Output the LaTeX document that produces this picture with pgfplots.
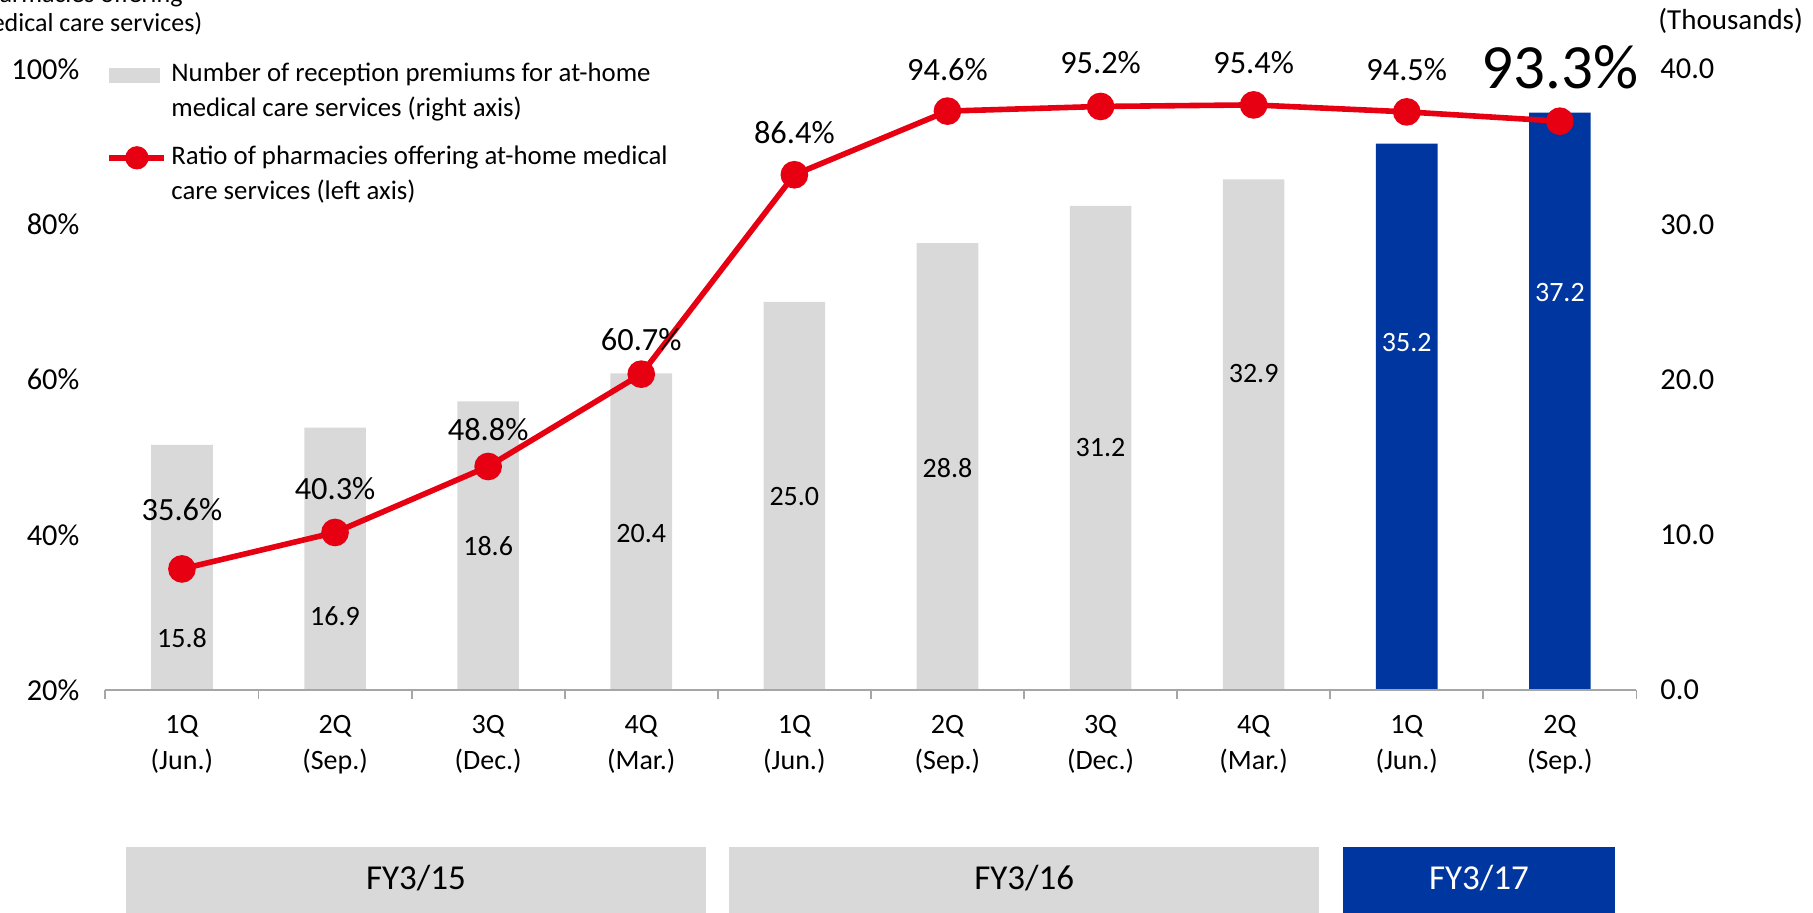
\documentclass[border=0pt]{standalone}
\usepackage{pgfplots}
\pgfplotsset{compat=1.18}
\usepackage{fontspec}
\setmainfont{Carlito}
\definecolor{bargray}{RGB}{217,217,217}
\definecolor{barblue}{RGB}{0,54,160}
\definecolor{linered}{RGB}{230,0,18}
\definecolor{axisgray}{RGB}{166,166,166}
\newcommand{\tk}{\fontsize{14}{18}\selectfont}
\begin{document}
\begin{tikzpicture}
\useasboundingbox (-52.7pt,-111.5pt) rectangle (853.8pt,345pt);
\pgfplotsset{
  base/.style={at={(0pt,0pt)}, anchor=south west, scale only axis,
    width=765.5pt, height=310.4pt, xmin=-0.5, xmax=9.5, clip=false,
    major tick length=0pt, tick label style={font=\tk}},
  lbl/.style={draw=none, mark=none, forget plot, point meta=explicit,
    nodes near coords align=center,
    every node near coord/.append style={text=black, inner sep=0pt},
    nodes near coords={\pgfmathprintnumber[fixed,fixed zerofill,precision=1,assume math mode=true]{\pgfplotspointmeta}}},
}
% bars on the right axis
\begin{axis}[base, ymin=0, ymax=40,
  axis x line=none, axis y line*=right, y axis line style={draw=none},
  ytick={0,10,20,30,40}, yticklabels={0.0,10.0,20.0,30.0,40.0},
  yticklabel style={xshift=8.5pt, font=\fontsize{15.2}{18}\selectfont}]
\addplot[ybar, bar width=30.8pt, bar shift=0pt, fill=bargray, draw=none] table {
x y
0 15.8
1 16.9
2 18.6
3 20.4
4 25.0
5 28.8
6 31.2
7 32.9
};
\addplot[ybar, bar width=30.8pt, bar shift=0pt, fill=barblue, draw=none] table {
x y
8 35.2
9 37.2
};
\addplot[lbl, every node near coord/.append style={font=\tk}] table[meta=v] {
x y v
0 3.36 15.8
1 4.78 16.9
2 9.25 18.6
3 10.07 20.4
4 12.46 25.0
5 14.33 28.8
6 15.6 31.2
7 20.37 32.9
};
\addplot[lbl, every node near coord/.append style={font=\tk, text=white}] table[meta=v] {
x y v
8 22.39 35.2
9 25.6 37.2
};
\end{axis}
% ratio line on the left axis
\begin{axis}[base, ymin=20, ymax=100,
  axis x line*=bottom, axis y line*=left, y axis line style={draw=none},
  x axis line style={axisgray, line width=0.9pt, -},
  xtick={0,...,9},
  xticklabels={{1Q\\(Jun.)},{2Q\\(Sep.)},{3Q\\(Dec.)},{4Q\\(Mar.)},{1Q\\(Jun.)},{2Q\\(Sep.)},{3Q\\(Dec.)},{4Q\\(Mar.)},{1Q\\(Jun.)},{2Q\\(Sep.)}},
  xticklabel style={align=center, yshift=-9pt},
  minor xtick={-0.5,0.5,1.5,2.5,3.5,4.5,5.5,6.5,7.5,8.5,9.5},
  minor tick length=4.5pt, tick align=outside,
  every minor tick/.append style={axisgray, line width=0.9pt},
  ytick={20,40,60,80,100}, yticklabels={20\%,40\%,60\%,80\%,100\%},
  yticklabel style={xshift=-9.5pt, font=\fontsize{15.2}{18}\selectfont},
  legend cell align=left,
  legend style={draw=none, fill=none, at={(0,1)}, anchor=north west,
    xshift=0.3pt, yshift=5.2pt, inner sep=0pt,
    font=\fontsize{13.4}{17.4}\selectfont, cells={align=left}, row sep=9pt,
    /tikz/every even column/.append style={column sep=0.8pt}}]
\addlegendimage{draw=none, fill=bargray,
  legend image code/.code={\fill[bargray] (0pt,4.3pt) rectangle (25.5pt,11.8pt);}}
\addlegendentry{Number of reception premiums for at-home\\medical care services (right axis)}
\addplot[linered, line width=2.8pt, mark=*, mark size=5.5pt,
  mark options={draw=none, fill=linered},
  legend image code/.code={\draw[linered, line width=3pt, mark=*, mark size=4.3pt,
    mark options={draw=none, fill=linered}, mark repeat=2, mark phase=2]
    plot coordinates {(0pt,8pt) (13.75pt,8pt) (27.5pt,8pt)};}]
  table {
x y
0 35.6
1 40.3
2 48.8
3 60.7
4 86.4
5 94.6
6 95.2
7 95.4
8 94.5
9 93.3
};
\addlegendentry{Ratio of pharmacies offering at-home medical\\care services (left axis)}
\addplot[lbl, every node near coord/.append style={font=\fontsize{16.2}{18}\selectfont},
  nodes near coords={\pgfmathprintnumber[fixed,fixed zerofill,precision=1,assume math mode=true]{\pgfplotspointmeta}\%}]
  table[meta=v] {
x y v
0 43.28 35.6
1 45.97 40.3
2 53.58 48.8
3 65.22 60.7
4 91.79 86.4
5 100.0 94.6
6 100.9 95.2
7 100.9 95.4
8 100.0 94.5
};
\addplot[lbl, every node near coord/.append style={font=\fontsize{31.5}{36}\selectfont},
  nodes near coords={\pgfmathprintnumber[fixed,fixed zerofill,precision=1,assume math mode=true]{\pgfplotspointmeta}\%}]
  table[meta=v] {
x y v
9 100.2 93.3
};
\end{axis}
% captions outside the axes
\node[anchor=base east, inner sep=0pt, font=\fontsize{13}{16}\selectfont] at (38.8pt,343.5pt) {(Ratio of pharmacies offering};
\node[anchor=base east, inner sep=0pt, font=\fontsize{13}{16}\selectfont] at (48.65pt,329pt) {at-home medical care services)};
\node[anchor=base west, inner sep=0pt, font=\fontsize{14.5}{18}\selectfont] at (776.3pt,330.3pt) {(Thousands)};
% fiscal-year bands
\fill[bargray] (10.3pt,-78.5pt) rectangle (300.3pt,-115pt);
\fill[bargray] (312pt,-78.5pt) rectangle (606.8pt,-115pt);
\fill[barblue] (618.8pt,-78.5pt) rectangle (754.8pt,-115pt);
\node[anchor=base, font=\fontsize{17.5}{20}\selectfont] at (155.3pt,-100pt) {FY3/15};
\node[anchor=base, font=\fontsize{17.5}{20}\selectfont] at (459.4pt,-100pt) {FY3/16};
\node[anchor=base, font=\fontsize{17.5}{20}\selectfont, text=white] at (686.8pt,-100pt) {FY3/17};
\end{tikzpicture}
\end{document}
